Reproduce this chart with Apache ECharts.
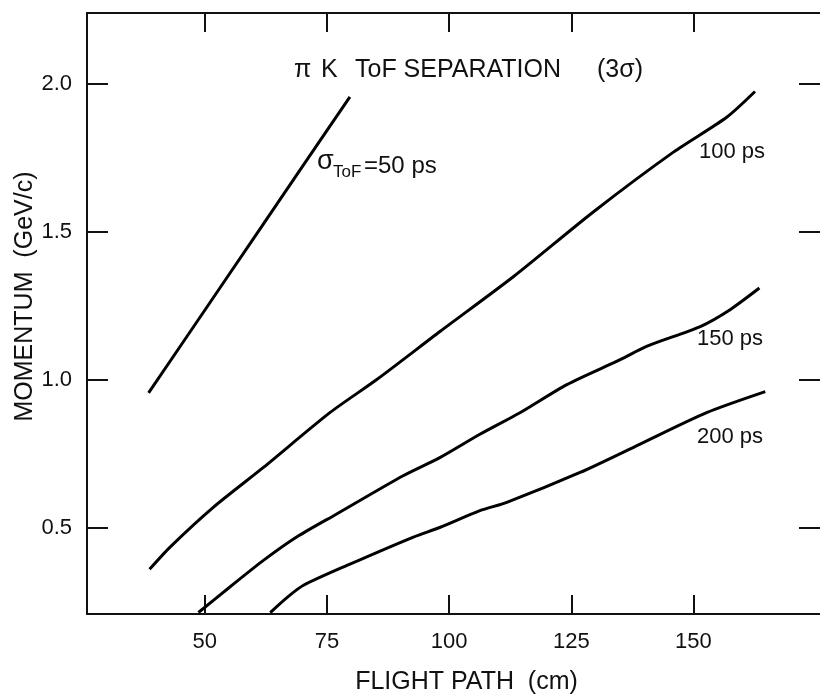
<!DOCTYPE html>
<html>
<head>
<meta charset="utf-8">
<script src="https://cdn.jsdelivr.net/npm/echarts@6/dist/echarts.min.js"></script>
<style>
  html, body { margin: 0; padding: 0; background: #fff; }
  #chart { width: 820px; height: 695px; }
</style>
</head>
<body>
<div id="chart"></div>
<script>
// === Datos: flight path (cm) vs momentum (GeV/c) ============================
const xTicks = [50, 75, 100, 125, 150];
const yTicks = [0.5, 1.0, 1.5, 2.0];

const tof50  = [[38.5, 0.957], [50, 1.236], [60, 1.479], [70, 1.722], [79.7, 1.957]];
const tof100 = [[38.7, 0.361], [42.9, 0.436], [51.8, 0.571], [62.0, 0.705], [75.6, 0.890],
                [85.2, 1.002], [98.2, 1.165], [113.2, 1.350], [129.5, 1.568], [145.9, 1.770],
                [156.8, 1.888], [162.6, 1.975]];
const tof150 = [[48.7, 0.215], [55.2, 0.302], [62.0, 0.391], [68.8, 0.470], [77.0, 0.548],
                [90.6, 0.677], [98.2, 0.739], [106.3, 0.817], [114.5, 0.890], [124.1, 0.985],
                [135.0, 1.069], [140.4, 1.114], [151.4, 1.181], [157.5, 1.238], [163.5, 1.311]];
const tof200 = [[63.4, 0.215], [67.0, 0.268], [70.2, 0.307], [79.1, 0.374], [92.7, 0.470], [98.2, 0.503],
                [106.3, 0.559], [111.8, 0.587], [126.8, 0.688], [139.1, 0.784], [152.7, 0.890],
                [164.7, 0.961]];

// === Estilo ==================================================================
const FONT = "'Liberation Sans', Arial, Helvetica, sans-serif";
const ink = '#111';
const X_MIN = 25.9, X_MAX = 175.9, Y_MIN = 0.21, Y_MAX = 2.24;

const tickStyle = { color: ink, width: 2 };
const axisX = (pos, showLabels) => ({
  type: 'value', position: pos, min: X_MIN, max: X_MAX,
  axisLine: { onZero: false, lineStyle: { color: ink, width: 2 } },
  axisTick: { inside: true, length: 19, customValues: xTicks, lineStyle: tickStyle },
  axisLabel: { show: showLabels, customValues: xTicks, fontSize: 22, color: ink, fontFamily: FONT, margin: 17 },
  splitLine: { show: false }
});
const axisY = (pos, showLabels) => ({
  type: 'value', position: pos, min: Y_MIN, max: Y_MAX,
  axisLine: { show: showLabels, onZero: false, lineStyle: { color: ink, width: 2 } },
  axisTick: { inside: true, length: 21, customValues: yTicks, lineStyle: tickStyle },
  axisLabel: { show: showLabels, customValues: yTicks, fontSize: 22, color: ink, fontFamily: FONT, margin: 15,
               formatter: v => v.toFixed(1) },
  splitLine: { show: false }
});

const txt = (x, y, text, size, align) => ({
  type: 'text', x, y,
  style: { text, fontSize: size, fontFamily: FONT, fill: ink,
           align: align || 'left', verticalAlign: 'middle',
           textAlign: align || 'left', textVerticalAlign: 'middle' }
});

const curve = d => ({
  type: 'line', data: d, smooth: 0.25, symbol: 'none', clip: true,
  lineStyle: { color: '#000', width: 3 }
});

const xMain = axisX('bottom', true);
xMain.name = 'FLIGHT PATH  (cm)';
xMain.nameLocation = 'middle';
xMain.nameGap = 56;
xMain.nameMoveOverlap = false;
xMain.nameTextStyle = { fontSize: 25, color: ink, fontFamily: FONT, padding: [0, 0, 0, 26] };

const yMain = axisY('left', true);
yMain.name = 'MOMENTUM  (GeV/c)';
yMain.nameLocation = 'middle';
yMain.nameRotate = 90;
yMain.nameGap = 49;
yMain.nameMoveOverlap = false;
yMain.nameTextStyle = { fontSize: 25, color: ink, fontFamily: FONT, padding: [0, 0, 0, 34] };

const option = {
  animation: false,
  backgroundColor: '#fff',
  grid: { left: 87, right: 0, top: 13, bottom: 81, containLabel: false, outerBoundsMode: 'none' },
  xAxis: [xMain, axisX('top', false)],
  yAxis: [yMain, axisY('right', false)],
  series: [curve(tof50), curve(tof100), curve(tof150), curve(tof200)],
  graphic: [
    txt(294, 70, 'π', 25),
    txt(321, 70, 'K', 25),
    txt(355, 70, 'ToF SEPARATION', 25),
    txt(643, 70, '(3σ)', 25, 'right'),
    txt(317, 162, 'σ', 27),
    txt(333, 172, 'ToF', 17),
    txt(364, 166, '=50 ps', 24),
    txt(699, 152, '100 ps', 22),
    txt(697, 339, '150 ps', 22),
    txt(697, 437, '200 ps', 22)
  ]
};

echarts.init(document.getElementById('chart')).setOption(option);
</script>
</body>
</html>
